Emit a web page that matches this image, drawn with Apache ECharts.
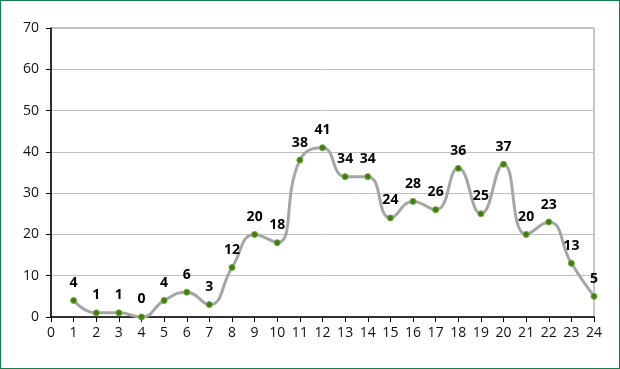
<!DOCTYPE html>
<html>
<head>
<meta charset="utf-8">
<script src="https://cdn.jsdelivr.net/npm/echarts@6/dist/echarts.min.js"></script>
<style>
html,body{margin:0;padding:0;background:#fff;}
#c{width:620px;height:369px;box-sizing:border-box;border:1.5px solid #12804a;}
</style>
</head>
<body>
<div id="c"></div>
<script>
const xValues = [1,2,3,4,5,6,7,8,9,10,11,12,13,14,15,16,17,18,19,20,21,22,23,24];
const yValues = [4,1,1,0,4,6,3,12,20,18,38,41,34,34,24,28,26,36,25,37,20,23,13,5];

const chart = echarts.init(document.getElementById('c'), null, {renderer:'canvas'});
const font = '"Open Sans", "Liberation Sans", sans-serif';
chart.setOption({
  animation:false,
  grid:{left:50,right:25,top:27,bottom:51,show:true,borderColor:'#8c8c8c',borderWidth:1,containLabel:false},
  xAxis:{type:'value',min:0,max:24,interval:1,
    axisLine:{lineStyle:{color:'#000',width:1.5}},
    axisTick:{show:true,length:5,lineStyle:{color:'#000'}},
    axisLabel:{color:'#111',fontSize:14,fontFamily:font,margin:9},
    splitLine:{show:false}},
  yAxis:{type:'value',min:0,max:70,interval:10,
    axisLine:{show:true,lineStyle:{color:'#000',width:1.5}},
    axisTick:{show:true,length:5,lineStyle:{color:'#000'}},
    axisLabel:{color:'#111',fontSize:14,fontFamily:font,margin:12},
    splitLine:{show:true,lineStyle:{color:'#bfbfbf',width:1}}},
  series:[{
    type:'line',
    data:xValues.map((x,i)=>[x,yValues[i]]),
    smooth:0.5,
    lineStyle:{color:'#a6a6a6',width:3},
    symbol:'circle',symbolSize:6,
    itemStyle:{color:'#3d7d12',borderColor:'#6aaa3a',borderWidth:1},
    label:{show:true,position:'top',distance:7,fontWeight:'bold',fontSize:14,color:'#000',fontFamily:font}
  }]
});
</script>
</body>
</html>
